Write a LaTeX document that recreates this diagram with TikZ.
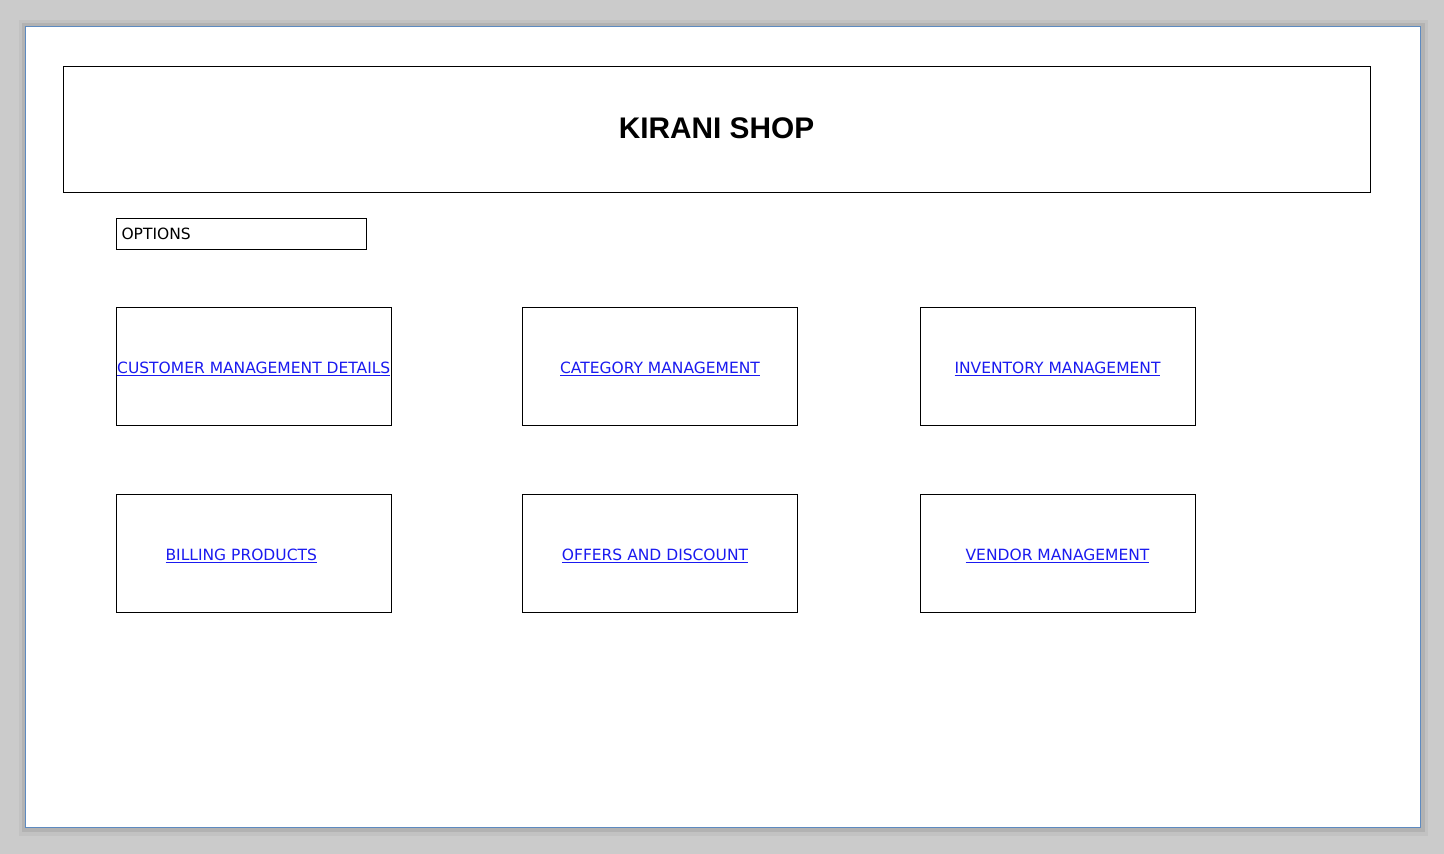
\documentclass[tikz,border=0pt]{standalone}
\usepackage{fontspec}
\newfontfamily\titlefont{Liberation Sans}
\newfontfamily\handfont{DejaVu Sans}
\definecolor{pageedge}{HTML}{5D8AC0}
\definecolor{backdrop}{HTML}{CBCBCB}
\definecolor{linkblue}{HTML}{1A1AF0}
\begin{document}
\begin{tikzpicture}[x=1pt, y=-1pt]

  \newcommand\HW{137.5}
  \newcommand\HH{59}
  \newcommand\XA{253.75}
  \newcommand\XB{660}
  \newcommand\XC{1057.5}
  \newcommand\YA{366}
  \newcommand\YB{553}
  \newcommand\LINK{\handfont\fontsize{15.5}{17}\selectfont}

  \useasboundingbox (0, 0) rectangle (1444, 854);
  \fill[backdrop] (0, 0) rectangle (1444, 854);
  \fill[black!24] (19, 20) rectangle (1428, 836);
  \fill[black!30] (22, 23) rectangle (1425, 832);
  \draw[pageedge, fill=white] (25.5, 26.5) rectangle (1420.5, 827.5);

  \draw (716.5, 128) node(title){\titlefont\fontsize{29.8}{32}\selectfont\bfseries KIRANI SHOP}
    +(-653.5, -62) rectangle +(653.5, 64);
  \draw (116, 218) node[anchor=west, xshift=2pt, yshift=-16pt](options){\LINK OPTIONS}
    +(0, 0) rectangle +(250, 31);

  \draw (\XA, \YA) node[linkblue, yshift=-2.5pt](customer){\LINK\underline{CUSTOMER MANAGEMENT DETAILS}} +(-\HW, -\HH) rectangle +(\HW, \HH);
  \draw (\XB, \YA) node[linkblue, yshift=-2.5pt](category){\LINK\underline{CATEGORY MANAGEMENT}} +(-\HW, -\HH) rectangle +(\HW, \HH);
  \draw (\XC, \YA) node[linkblue, yshift=-2.5pt](inventory){\LINK\underline{INVENTORY MANAGEMENT}} +(-\HW, -\HH) rectangle +(\HW, \HH);

  \draw (\XA, \YB) node[linkblue, xshift=-12.5pt, yshift=-2.5pt](billing){\LINK\underline{BILLING PRODUCTS}} +(-\HW, -\HH) rectangle +(\HW, \HH);
  \draw (\XB, \YB) node[linkblue, xshift=-5pt, yshift=-2.5pt](offers){\LINK\underline{OFFERS AND DISCOUNT}} +(-\HW, -\HH) rectangle +(\HW, \HH);
  \draw (\XC, \YB) node[linkblue, yshift=-2.5pt](vendor){\LINK\underline{VENDOR MANAGEMENT}} +(-\HW, -\HH) rectangle +(\HW, \HH);

\end{tikzpicture}
\end{document}
